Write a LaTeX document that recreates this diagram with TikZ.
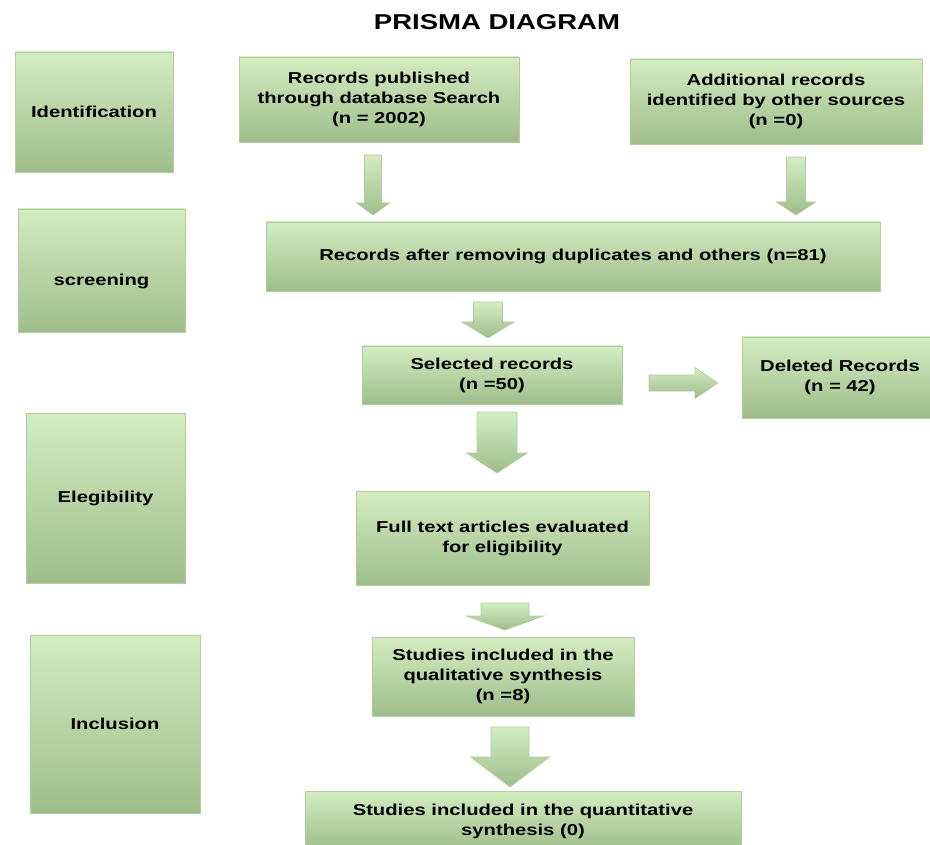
\documentclass[tikz,border=0pt]{standalone}
\usepackage{fontspec}
\setmainfont{Liberation Sans}[FakeStretch=1.28]
\usetikzlibrary{calc}

\definecolor{boxtop}{RGB}{211,237,193}
\definecolor{boxmid}{RGB}{194,223,176}
\definecolor{boxbot}{RGB}{159,189,139}
\definecolor{boxline}{RGB}{180,201,166}

\tikzset{
  box/.style={rectangle, draw=boxline, line width=0.8pt, top color=boxtop,
    middle color=boxmid, bottom color=boxbot, align=center,
    font=\fontsize{15.8}{20}\selectfont\bfseries, inner sep=3pt},
  arrowfill/.style={draw=boxline, line width=0.6pt, top color=boxtop,
    bottom color=boxbot}
}

% block arrow pointing down: start, end, shaft, head, head length
\newcommand{\vblock}[5]{%
  \shadedraw[arrowfill] let \p1=(#1), \p2=(#2) in
    (\x1-#3pt/2,\y1) -- (\x1+#3pt/2,\y1) -- (\x1+#3pt/2,\y2+#5pt)
    -- (\x1+#4pt/2,\y2+#5pt) -- (\x1,\y2) -- (\x1-#4pt/2,\y2+#5pt)
    -- (\x1-#3pt/2,\y2+#5pt) -- cycle;}
% block arrow pointing right
\newcommand{\hblock}[5]{%
  \shadedraw[arrowfill] let \p1=(#1), \p2=(#2) in
    (\x1,\y1+#3pt/2) -- (\x2-#5pt,\y1+#3pt/2) -- (\x2-#5pt,\y1+#4pt/2)
    -- (\x2,\y1) -- (\x2-#5pt,\y1-#4pt/2) -- (\x2-#5pt,\y1-#3pt/2)
    -- (\x1,\y1-#3pt/2) -- cycle;}

\begin{document}
\begin{tikzpicture}[x=1pt, y=-1pt]
\useasboundingbox (0,0) rectangle (930,845);
\node[font=\fontsize{21.5}{24}\selectfont\bfseries] (title) at (497,22) {PRISMA DIAGRAM};

% stages
\node[box, minimum width=158pt, minimum height=120pt] (ident) at (94,112) {Identification};
\node[box, minimum width=167pt, minimum height=123pt, text height=35pt, text depth=4pt] (screen) at (101.5,270.5) {screening};
\node[box, minimum width=159pt, minimum height=170pt] (elig) at (105.5,498) {Elegibility};
\node[box, minimum width=170pt, minimum height=178pt] (incl) at (115,724) {Inclusion};

% records
\node[box, minimum width=280pt, minimum height=85pt] (pub) at (379,99.5) {Records published\\through database Search\\(n = 2002)};
\node[box, minimum width=292pt, minimum height=85pt] (addl) at (776,101.5) {Additional records\\identified by other sources\\(n =0)};
\node[box, minimum width=614pt, minimum height=69pt] (dedup) at (573,256.5) {Records after removing duplicates and others (n=81)};
\node[box, minimum width=260pt, minimum height=58pt] (sel) at (492,375) {Selected records\\(n =50)};
\node[box, minimum width=196pt, minimum height=81pt] (del) at (840,377.5) {Deleted Records\\(n = 42)};
\node[box, minimum width=293pt, minimum height=94pt] (full) at (502.5,538) {Full text articles evaluated\\for eligibility};
\node[box, minimum width=262pt, minimum height=79pt] (qual) at (503,676.5) {Studies included in the\\qualitative synthesis\\(n =8)};
\node[box, minimum width=436pt, minimum height=60pt] (quant) at (523,821) {Studies included in the quantitative\\synthesis (0)};

% arrow ends
\coordinate (pubs) at (373,155);   \coordinate (pube) at (373,215);
\coordinate (addls) at (796,157);  \coordinate (addle) at (796,215);
\coordinate (dedups) at (488,302); \coordinate (dedupe) at (488,338);
\coordinate (sels) at (649,383);   \coordinate (sele) at (718,383);
\coordinate (seld) at (497,412);   \coordinate (fulls) at (497,473);
\coordinate (fulld) at (505,603);  \coordinate (quals) at (505,630);
\coordinate (quald) at (510,727);  \coordinate (quants) at (510,787);

\vblock{pubs}{pube}{17}{33}{12}
\vblock{addls}{addle}{19}{39}{13}
\vblock{dedups}{dedupe}{29}{52}{16}
\hblock{sels}{sele}{16}{31}{23}
\vblock{seld}{fulls}{40}{61}{20}
\vblock{fulld}{quals}{48}{77}{14}
\vblock{quald}{quants}{38}{79}{30}
\end{tikzpicture}
\end{document}
